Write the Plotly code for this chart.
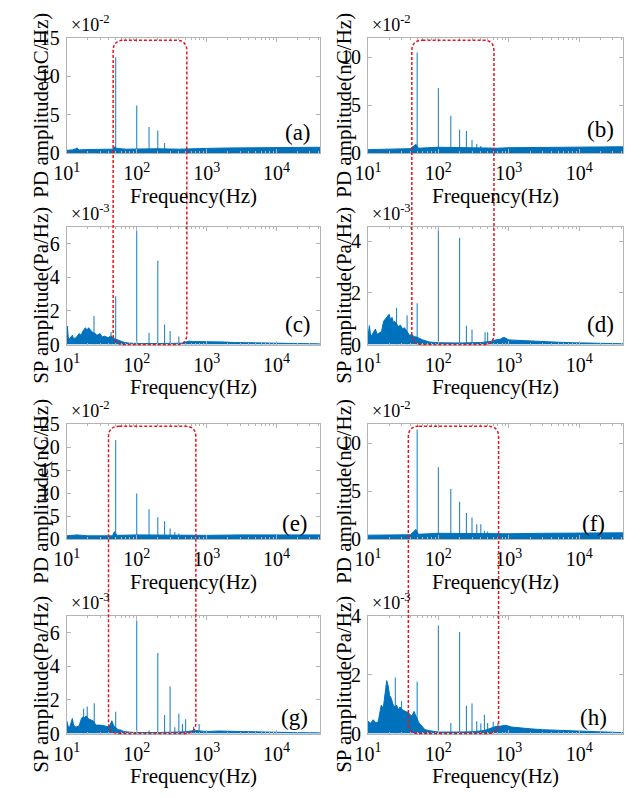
import math
import plotly.graph_objects as go

W, H = 625, 798
FONT = "Liberation Serif, Times New Roman, serif"
BLUE = "#0072BD"
GRAY = "#b4b4b4"
RED = "#e3161d"

# ---------------- data ----------------
# (a) PD amplitude, x10^-2 nC/Hz
a_peak_f = [14, 50, 100, 150, 200, 250]
a_peak_v = [0.7, 12.5, 6.2, 3.4, 2.95, 1.3]
a_floor_f = [10, 12, 14, 15, 20, 30, 45, 48, 52, 70, 100, 200, 400, 700, 1000, 2000, 5000, 10000, 20000, 41700]
a_floor_v = [0.35, 0.4, 0.6, 0.4, 0.45, 0.5, 0.5, 0.8, 0.6, 0.5, 0.55, 0.55, 0.5, 0.6, 0.6, 0.65, 0.7, 0.7, 0.75, 0.75]

# (b) PD amplitude, x10^-2 nC/Hz
b_peak_f = [50, 100, 150, 200, 250, 300, 350, 400]
b_peak_v = [10.5, 6.8, 3.9, 2.44, 2.3, 1.35, 0.95, 0.74]
b_floor_f = [10, 20, 40, 48, 52, 100, 300, 700, 1000, 3000, 10000, 41700]
b_floor_v = [0.35, 0.4, 0.45, 0.9, 0.5, 0.6, 0.5, 0.5, 0.55, 0.6, 0.65, 0.65]

# (c) SP amplitude, x10^-3 Pa/Hz
c_peak_f = [24.5, 43, 50, 100, 150, 200, 250, 300, 400]
c_peak_v = [1.7, 0.75, 2.87, 6.76, 0.7, 4.99, 1.19, 0.8, 0.48]
c_floor_f = [10, 10.2, 10.5, 11, 12, 12.5, 13.5, 15, 16, 17, 18.5, 19.5, 20.5, 22, 23, 25.5, 27, 30, 32, 35, 39, 42, 45, 48,
             55, 61, 67, 80, 92, 120, 200, 300, 450, 500, 560, 650, 800, 1000, 1300, 1800, 2500, 3500, 5000, 8000, 12000, 20000, 41700]
c_floor_v = [0.5, 1.1, 0.4, 0.35, 0.55, 0.35, 0.4, 0.65, 0.55, 0.8, 1.0, 0.85, 1.0, 0.8, 0.75, 0.65, 0.55, 0.65, 0.45, 0.5, 0.4, 0.5, 0.45, 0.35,
             0.27, 0.2, 0.12, 0.08, 0.07, 0.06, 0.06, 0.07, 0.08, 0.15, 0.2, 0.18, 0.18, 0.16, 0.14, 0.15, 0.12, 0.11, 0.09, 0.07, 0.06, 0.05, 0.04]

# (d) SP amplitude, x10^-3 Pa/Hz
d_peak_f = [25.5, 36, 50, 100, 200, 250, 300, 460, 500]
d_peak_v = [1.42, 1.13, 1.6, 4.5, 4.13, 0.73, 0.58, 0.48, 0.48]
d_floor_f = [10, 10.5, 11, 12, 12.8, 13.5, 14.5, 15.6, 16.7, 18, 19, 20, 21, 22, 23, 24, 27, 29, 31, 33, 36, 39, 42, 45, 48,
             54, 60, 75, 100, 200, 300, 400, 550, 650, 750, 850, 1000, 1300, 1800, 2500, 3500, 5000, 8000, 12000, 20000, 41700]
d_floor_v = [0.3, 0.73, 0.3, 0.45, 0.6, 0.4, 0.45, 0.5, 0.9, 1.0, 1.1, 1.17, 0.95, 1.05, 0.85, 0.9, 0.7, 0.75, 0.6, 0.65, 0.5, 0.35, 0.4, 0.3, 0.3,
             0.23, 0.18, 0.1, 0.07, 0.06, 0.06, 0.08, 0.12, 0.18, 0.2, 0.28, 0.18, 0.17, 0.15, 0.13, 0.11, 0.09, 0.07, 0.06, 0.05, 0.03]

# (e) PD amplitude, x10^-2 nC/Hz
e_peak_f = [50, 100, 150, 200, 250, 300, 350, 400, 450, 500, 550]
e_peak_v = [21.6, 9.9, 6.5, 4.74, 3.9, 2.3, 1.55, 1.2, 0.85, 0.7, 0.6]
e_floor_f = [10, 14, 20, 45, 48, 52, 100, 300, 1000, 3000, 10000, 41700]
e_floor_v = [0.7, 0.9, 0.7, 0.7, 1.6, 0.8, 0.9, 0.8, 0.8, 0.9, 0.9, 0.9]

# (f) PD amplitude, x10^-2 nC/Hz
f_peak_f = [50, 100, 150, 200, 250, 300, 350, 400, 450, 500, 550, 600, 650, 700]
f_peak_v = [11.45, 7.5, 5.24, 3.9, 2.73, 2.24, 1.55, 1.55, 0.87, 0.8, 0.6, 0.5, 0.45, 0.4]
f_floor_f = [10, 20, 40, 48, 52, 100, 300, 700, 1000, 3000, 10000, 41700]
f_floor_v = [0.4, 0.45, 0.45, 1.0, 0.5, 0.6, 0.55, 0.55, 0.55, 0.6, 0.65, 0.65]

# (g) SP amplitude, x10^-3 Pa/Hz
g_peak_f = [17.4, 19.6, 24.7, 50, 100, 150, 200, 250, 300, 350, 400, 450, 500, 650, 780]
g_peak_v = [1.48, 1.6, 1.8, 1.29, 6.72, 0.2, 4.79, 1.1, 2.8, 0.38, 1.19, 0.57, 0.85, 0.4, 0.57]
g_floor_f = [10, 10.5, 11, 12, 12.5, 13.5, 15, 16.2, 17, 18, 19, 20, 21, 22.5, 24, 26, 30, 35, 39, 42, 44, 47, 54, 60, 65,
             80, 100, 200, 300, 500, 600, 700, 800, 1000, 1500, 2000, 3000, 5000, 8000, 12000, 20000, 41700]
g_floor_v = [0.76, 0.4, 0.38, 0.9, 0.5, 0.38, 0.45, 0.9, 1.0, 0.95, 1.05, 0.9, 0.85, 0.8, 0.75, 0.5, 0.5, 0.45, 0.4, 0.55, 0.76, 0.45, 0.23, 0.2, 0.12,
             0.08, 0.06, 0.06, 0.07, 0.1, 0.15, 0.18, 0.15, 0.12, 0.15, 0.15, 0.12, 0.1, 0.07, 0.06, 0.05, 0.04]

# (h) SP amplitude, x10^-3 Pa/Hz
h_peak_f = [24.5, 30, 50, 100, 150, 200, 250, 300, 350, 400, 450, 500, 600, 700]
h_peak_v = [1.9, 1.1, 1.76, 3.67, 0.36, 3.45, 0.94, 1.02, 0.42, 0.34, 0.64, 0.36, 0.4, 0.35]
h_floor_f = [10, 11, 11.9, 13, 14, 15.5, 16.5, 17.6, 18.5, 19.5, 20.3, 21.5, 22.6, 24, 25.5, 27, 28.5, 31, 34, 38, 41, 43, 45, 47,
             50, 53, 56, 59, 64, 72, 80, 100, 200, 300, 450, 550, 650, 750, 900, 1100, 1500, 2000, 3000, 5000, 10000, 20000, 41700]
h_floor_v = [0.42, 0.35, 0.47, 0.36, 0.4, 0.97, 0.85, 1.3, 1.8, 1.6, 1.3, 1.19, 1.0, 0.9, 0.97, 0.8, 0.9, 0.8, 0.75, 0.7, 0.6, 0.64, 0.75, 0.65,
             0.5, 0.36, 0.3, 0.25, 0.14, 0.1, 0.08, 0.05, 0.05, 0.06, 0.1, 0.17, 0.24, 0.25, 0.28, 0.22, 0.18, 0.16, 0.13, 0.11, 0.09, 0.06, 0.03]

# axis settings
x_tickvals = [10, 100, 1000, 10000]
x_ticktext = ["10<sup>1</sup>", "10<sup>2</sup>", "10<sup>3</sup>", "10<sup>4</sup>"]
x_minor = [m * 10 ** k for k in range(1, 5) for m in range(2, 10)]
PD_TITLE = "PD amplitude(nC/Hz)"
SP_TITLE = "SP amplitude(Pa/Hz)"
X_TITLE = "Frequency(Hz)"

# highlighted frequency bands (red dashed boxes): (column, top row, bottom row, f_lo, f_hi)
bands = [(0, 0, 1, 46, 520), (1, 0, 1, 42, 615), (0, 2, 3, 39.5, 700), (1, 2, 3, 37.5, 715)]

panels = [
    # label, row, col, peak_f, peak_v, floor_f, floor_v, ymax, yticks, kind, exponent, label_px
    ("(a)", 0, 0, a_peak_f, a_peak_v, a_floor_f, a_floor_v, 15, [0, 5, 10, 15], "PD", -2, (290, 125)),
    ("(b)", 0, 1, b_peak_f, b_peak_v, b_floor_f, b_floor_v, 12, [0, 5, 10], "PD", -2, (600, 122)),
    ("(c)", 1, 0, c_peak_f, c_peak_v, c_floor_f, c_floor_v, 7, [0, 2, 4, 6], "SP", -3, (290, 322)),
    ("(d)", 1, 1, d_peak_f, d_peak_v, d_floor_f, d_floor_v, 4.55, [0, 2, 4], "SP", -3, (600, 322)),
    ("(e)", 2, 0, e_peak_f, e_peak_v, e_floor_f, e_floor_v, 25, [0, 5, 10, 15, 20, 25], "PD", -2, (287, 527)),
    ("(f)", 2, 1, f_peak_f, f_peak_v, f_floor_f, f_floor_v, 12, [0, 5, 10], "PD", -2, (593, 527)),
    ("(g)", 3, 0, g_peak_f, g_peak_v, g_floor_f, g_floor_v, 7, [0, 2, 4, 6], "SP", -3, (287, 727)),
    ("(h)", 3, 1, h_peak_f, h_peak_v, h_floor_f, h_floor_v, 4, [0, 2, 4], "SP", -3, (593, 727)),
]

# ---------------- geometry (px) ----------------
COL_X = {0: (54, 313), 1: (362, 623)}
ROW_Y = {0: (28, 146), 1: (222, 343), 2: (425, 543), 3: (622, 743)}
LOGX = (1.0, 4.62)
YTITLE_X = {0: 28, 1: 338}


def px_x(p):
    return p / W


def px_y(p):
    return 1 - p / H


def freq_to_px(col, f):
    x0, x1 = COL_X[col]
    return x0 + (math.log10(f) - LOGX[0]) / (LOGX[1] - LOGX[0]) * (x1 - x0)


fig = go.Figure()
annotations = []
layout = {}

for i, (lab, row, col, pf, pv, ff, fv, ymax, yt, kind, ex, lpx) in enumerate(panels, start=1):
    xs = "x" if i == 1 else f"x{i}"
    ys = "y" if i == 1 else f"y{i}"
    xk = "xaxis" if i == 1 else f"xaxis{i}"
    yk = "yaxis" if i == 1 else f"yaxis{i}"

    fig.add_trace(go.Scatter(x=ff, y=fv, mode="lines", fill="tozeroy",
                             line=dict(color=BLUE, width=1), fillcolor=BLUE,
                             xaxis=xs, yaxis=ys, hoverinfo="skip", showlegend=False))
    sx, sy = [], []
    for f, v in zip(pf, pv):
        sx += [f, f, None]
        sy += [0, v, None]
    fig.add_trace(go.Scatter(x=sx, y=sy, mode="lines", line=dict(color=BLUE, width=1.1),
                             opacity=0.85, xaxis=xs, yaxis=ys, showlegend=False))

    x0, x1 = COL_X[col]
    y0, y1 = ROW_Y[row]
    layout[xk] = dict(type="log", range=list(LOGX), domain=[px_x(x0), px_x(x1)], anchor=ys,
                      tickvals=x_tickvals, ticktext=x_ticktext, ticks="inside", ticklen=4,
                      tickcolor=GRAY, showline=True, linecolor=GRAY, linewidth=1, mirror="ticks",
                      showgrid=False, zeroline=False, ticklabelstandoff=2,
                      tickfont=dict(family=FONT, size=20, color="black"),
                      minor=dict(tickvals=x_minor, ticks="inside", ticklen=2, tickcolor=GRAY, showgrid=False))
    layout[yk] = dict(range=[0, ymax], domain=[px_y(y1), px_y(y0)], anchor=xs,
                      tickvals=yt, ticktext=[str(t) for t in yt], ticks="inside", ticklen=4,
                      tickcolor=GRAY, showline=True, linecolor=GRAY, linewidth=1, mirror="ticks",
                      showgrid=False, zeroline=False, ticklabelstandoff=2,
                      tickfont=dict(family=FONT, size=20, color="black"))

    # panel label
    annotations.append(dict(text=lab, x=px_x(lpx[0]), y=px_y(lpx[1]), xref="paper", yref="paper",
                            showarrow=False, xanchor="center", yanchor="middle",
                            font=dict(family=FONT, size=23, color="black")))
    # exponent
    annotations.append(dict(text=f"\u00d710<sup>{ex}</sup>", x=px_x(x0 + 2), y=px_y(y0 - 1),
                            xref="paper", yref="paper", showarrow=False, xanchor="left", yanchor="bottom",
                            font=dict(family=FONT, size=18, color="black")))
    # y title
    annotations.append(dict(text=PD_TITLE if kind == "PD" else SP_TITLE, textangle=-90,
                            x=px_x(YTITLE_X[col]), y=px_y((y0 + y1) / 2 + 10), xref="paper", yref="paper",
                            showarrow=False, xanchor="center", yanchor="middle",
                            font=dict(family=FONT, size=21, color="black")))
    # x title
    annotations.append(dict(text=X_TITLE, x=px_x((x0 + x1) / 2), y=px_y(y1 + 44), xref="paper", yref="paper",
                            showarrow=False, xanchor="center", yanchor="middle",
                            font=dict(family=FONT, size=21, color="black")))

shapes = []
r = 11
for col, rt, rb, flo, fhi in bands:
    xl = freq_to_px(col, flo)
    xr = freq_to_px(col, fhi)
    yt_ = ROW_Y[rt][0] + 2
    yb_ = ROW_Y[rb][1]
    X = px_x
    Y = px_y
    path = (f"M {X(xl + r)},{Y(yt_)} L {X(xr - r)},{Y(yt_)} Q {X(xr)},{Y(yt_)} {X(xr)},{Y(yt_ + r)} "
            f"L {X(xr)},{Y(yb_ - r)} Q {X(xr)},{Y(yb_)} {X(xr - r)},{Y(yb_)} "
            f"L {X(xl + r)},{Y(yb_)} Q {X(xl)},{Y(yb_)} {X(xl)},{Y(yb_ - r)} "
            f"L {X(xl)},{Y(yt_ + r)} Q {X(xl)},{Y(yt_)} {X(xl + r)},{Y(yt_)} Z")
    shapes.append(dict(type="path", path=path, xref="paper", yref="paper", layer="above",
                       line=dict(color=RED, width=1.5, dash="3px,2px")))

fig.update_layout(width=W, height=H, margin=dict(l=0, r=0, t=0, b=0),
                  paper_bgcolor="white", plot_bgcolor="white",
                  annotations=annotations, shapes=shapes, showlegend=False, **layout)

fig.write_html("out.html")
